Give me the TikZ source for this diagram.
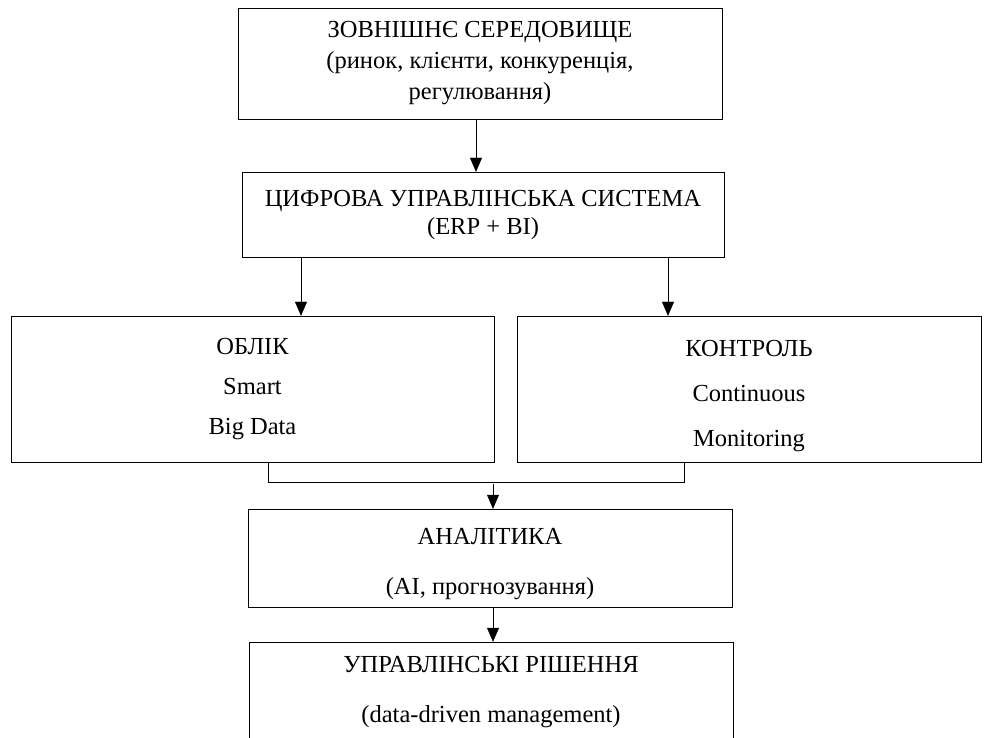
\documentclass[tikz,border=0pt]{standalone}
\usepackage{fontspec}
\setmainfont{Liberation Serif}
\usetikzlibrary{arrows.meta}

\begin{document}
\begin{tikzpicture}[x=1pt,y=-1pt,
      every node/.style={draw,thin,align=center,inner sep=0pt,
        font=\fontsize{24.5}{31}\selectfont},
      arr/.style={thin,-{Triangle[length=14pt,width=12pt]}}]
  \useasboundingbox (0,0) rectangle (989,738);
  % boxes
  \node[minimum width=484pt,minimum height=111pt] (env) at (480,63.5)
    {ЗОВНІШНЄ СЕРЕДОВИЩЕ\\(ринок, клієнти, конкуренція,\\регулювання)};
  \node[minimum width=482pt,minimum height=85pt] (sys) at (483,214.5)
    {ЦИФРОВА УПРАВЛІНСЬКА СИСТЕМА\\[-3pt](ERP + BI)};
  \node[minimum width=483pt,minimum height=146pt] (oblik) at (252.5,389)
    {ОБЛІК\\[9pt]Smart\\[9pt]Big Data};
  \node[minimum width=464pt,minimum height=146pt] (kontrol) at (749,389)
    {\rule{0pt}{31pt}КОНТРОЛЬ\\[14pt]Continuous\\[14pt]Monitoring};
  \node[minimum width=484pt,minimum height=98pt] (anal) at (490,558)
    {\rule{0pt}{28pt}АНАЛІТИКА\\[19pt](AI, прогнозування)};
  \node[minimum width=484pt,minimum height=100pt] (rish) at (491,692)
    {УПРАВЛІНСЬКІ РІШЕННЯ\\[19pt](data-driven management)};
  % connectors
  \coordinate (c1) at (301,0);
  \coordinate (c2) at (668,0);
  \coordinate (m1) at (268,482);
  \coordinate (m2) at (684,482);
  \coordinate (m3) at (493,484);
  \draw[arr] ([xshift=-4]env.south) -- ([xshift=-4]env.south |- sys.north);
  \draw[arr] (sys.south -| c1) -- (oblik.north -| c1);
  \draw[arr] (sys.south -| c2) -- (kontrol.north -| c2);
  \draw[thin] (oblik.south -| m1) -- (m1) -- (m2) -- (kontrol.south -| m2);
  \draw[arr] (m3) -- (anal.north -| m3);
  \draw[arr] (anal.south -| m3) -- (rish.north -| m3);
\end{tikzpicture}
\end{document}
